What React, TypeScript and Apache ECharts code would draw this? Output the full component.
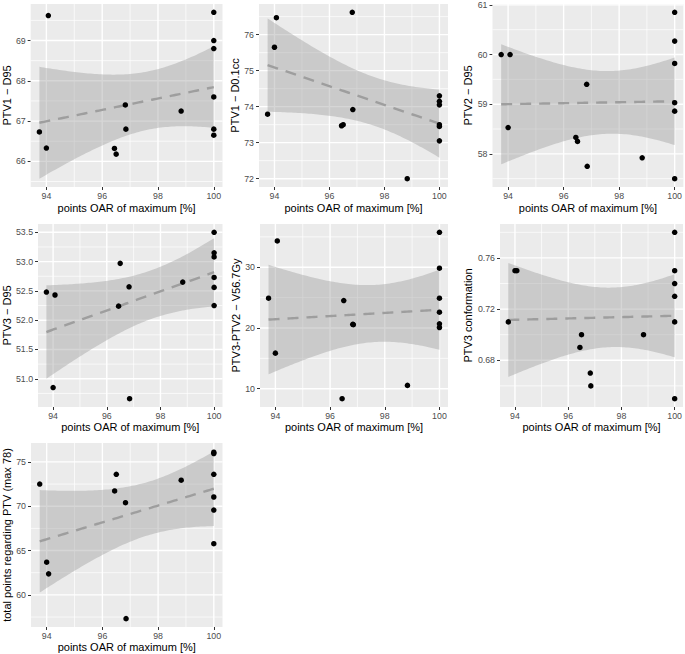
import React, { useEffect, useRef } from "react";
import * as echarts from "echarts";

// x: points OAR of maximum [%] (one value per patient, same for every panel)
const oarPoints = [93.75, 94.0, 94.07, 96.44, 96.5, 96.83, 96.85, 98.83, 100, 100, 100, 100, 100, 100];

// y values per panel, same patient order as oarPoints
const ptv1D95 = [66.73, 66.33, 69.62, 66.32, 66.18, 67.4, 66.8, 67.25, 69.7, 69.0, 68.8, 67.6, 66.8, 66.65];
const ptv1D01cc = [73.79, 75.65, 76.47, 73.47, 73.5, 76.62, 73.92, 72.0, 74.3, 74.15, 74.05, 73.5, 73.45, 73.05];
const ptv2D95 = [60.0, 58.53, 60.0, 58.33, 58.25, 59.4, 57.75, 57.92, 60.85, 60.27, 59.82, 59.03, 58.86, 57.5];
const ptv3D95 = [52.48, 50.85, 52.43, 52.24, 52.97, 52.57, 50.66, 52.65, 53.5, 53.15, 53.08, 52.73, 52.56, 52.25];
const ptv3V567 = [24.9, 15.86, 34.33, 8.36, 24.52, 20.6, 20.55, 10.55, 35.75, 29.84, 24.9, 22.6, 20.68, 20.08];
const ptv3Conformation = [0.71, 0.75, 0.75, 0.69, 0.7, 0.67, 0.66, 0.7, 0.78, 0.75, 0.74, 0.73, 0.71, 0.65];
const totalPointsPtv = [72.5, 63.69, 62.37, 71.72, 73.6, 70.4, 57.32, 72.93, 76.09, 75.94, 73.6, 71.04, 69.57, 65.77];

const panelValues = [ptv1D95, ptv1D01cc, ptv2D95, ptv3D95, ptv3V567, ptv3Conformation, totalPointsPtv];

const xTitle = "points OAR of maximum [%]";
const yTitles = [
  "PTV1 \u2212 D95",
  "PTV1 \u2212 D0.1cc",
  "PTV2 \u2212 D95",
  "PTV3 \u2212 D95",
  "PTV3-PTV2 \u2212 V56.7Gy",
  "PTV3 conformation",
  "total points regarding PTV (max 78)",
];

const xMajorTicks = [94, 96, 98, 100];
const xMinorTicks = [93, 95, 97, 99];
const yMajorTicks = [
  [66, 67, 68, 69],
  [72, 73, 74, 75, 76],
  [58, 59, 60, 61],
  [51, 51.5, 52, 52.5, 53, 53.5],
  [10, 20, 30],
  [0.68, 0.72, 0.76],
  [60, 65, 70, 75],
];
const yMinorTicks = [
  [65.5, 66.5, 67.5, 68.5, 69.5],
  [71.5, 72.5, 73.5, 74.5, 75.5, 76.5],
  [57.5, 58.5, 59.5, 60.5],
  [50.75, 51.25, 51.75, 52.25, 52.75, 53.25],
  [5, 15, 25, 35],
  [0.64, 0.66, 0.7, 0.74, 0.78],
  [57.5, 62.5, 67.5, 72.5, 77.5],
];
const yDecimals = [0, 0, 0, 1, 0, 2, 0];

// layout (pixels) of each panel
const LAYOUT = [
  { left: 29.5, top: 4, width: 193, height: 183, gapY: 17, gapX: 15 },
  { left: 259, top: 4, width: 189, height: 183, gapY: 15, gapX: 15 },
  { left: 492.5, top: 4, width: 192, height: 183, gapY: 17.5, gapX: 15 },
  { left: 36, top: 224, width: 186.5, height: 183, gapY: 24, gapX: 14.5 },
  { left: 260, top: 224, width: 188, height: 183, gapY: 17.5, gapX: 14.5 },
  { left: 500, top: 224, width: 185, height: 183, gapY: 25, gapX: 14.5 },
  { left: 29.5, top: 443, width: 193, height: 184, gapY: 19, gapX: 12.5 },
];

const FONT = "Liberation Sans, Arial, Helvetica, sans-serif";
const T975_DF12 = 2.178813; // Student t quantile, 95% level, n - 2 = 12 df

// geom_smooth(method = "lm") : least squares fit + 95% confidence band
function lmSmooth(xs: number[], ys: number[], nEval = 80) {
  const n = xs.length;
  const mx = xs.reduce((a, b) => a + b, 0) / n;
  const my = ys.reduce((a, b) => a + b, 0) / n;
  let sxx = 0;
  let sxy = 0;
  for (let i = 0; i < n; i++) {
    sxx += (xs[i] - mx) * (xs[i] - mx);
    sxy += (xs[i] - mx) * (ys[i] - my);
  }
  const b = sxy / sxx;
  const a = my - b * mx;
  let sse = 0;
  for (let i = 0; i < n; i++) {
    const r = ys[i] - (a + b * xs[i]);
    sse += r * r;
  }
  const s = Math.sqrt(sse / (n - 2));
  const x0 = Math.min(...xs);
  const x1 = Math.max(...xs);
  const out: number[][] = [];
  for (let k = 0; k < nEval; k++) {
    const xv = x0 + ((x1 - x0) * k) / (nEval - 1);
    const f = a + b * xv;
    const se = s * Math.sqrt(1 / n + ((xv - mx) * (xv - mx)) / sxx);
    out.push([xv, f - T975_DF12 * se, f + T975_DF12 * se, f]);
  }
  return out;
}

function expandRange(lo: number, hi: number) {
  const pad = (hi - lo) * 0.05;
  return [lo - pad, hi + pad];
}

function buildOption() {
  const grids: any[] = [];
  const xAxes: any[] = [];
  const yAxes: any[] = [];
  const series: any[] = [];
  const [xMin, xMax] = expandRange(Math.min(...oarPoints), Math.max(...oarPoints));

  panelValues.forEach((vals, i) => {
    const L = LAYOUT[i];
    const band = lmSmooth(oarPoints, vals);
    const lo = Math.min(...vals, ...band.map((b) => b[1]));
    const hi = Math.max(...vals, ...band.map((b) => b[2]));
    const [yMin, yMax] = expandRange(lo, hi);

    grids.push({
      left: L.left,
      top: L.top,
      width: L.width,
      height: L.height,
      show: true,
      backgroundColor: "#EBEBEB",
      borderWidth: 0,
      containLabel: false,
    });

    const dec = yDecimals[i];
    xAxes.push({
      type: "value",
      gridIndex: i,
      min: xMin,
      max: xMax,
      axisLine: { show: false },
      splitLine: { show: false },
      axisTick: {
        show: true,
        customValues: xMajorTicks,
        length: 3,
        lineStyle: { color: "#333333", width: 1 },
      },
      axisLabel: {
        customValues: xMajorTicks,
        color: "#4D4D4D",
        fontSize: 8.8,
        fontFamily: FONT,
        margin: 4.5,
        formatter: (v: number) => String(Math.round(v)),
      },
      name: xTitle,
      nameLocation: "middle",
      nameGap: L.gapX,
      nameTextStyle: { color: "#000000", fontSize: 11, fontFamily: FONT },
    });
    yAxes.push({
      type: "value",
      gridIndex: i,
      min: yMin,
      max: yMax,
      axisLine: { show: false },
      splitLine: { show: false },
      axisTick: {
        show: true,
        customValues: yMajorTicks[i],
        length: 3,
        lineStyle: { color: "#333333", width: 1 },
      },
      axisLabel: {
        customValues: yMajorTicks[i],
        color: "#4D4D4D",
        fontSize: 8.8,
        fontFamily: FONT,
        margin: 5,
        formatter: (v: number) => v.toFixed(dec),
      },
      name: yTitles[i],
      nameLocation: "middle",
      nameRotate: 90,
      nameGap: L.gapY,
      nameTextStyle: { color: "#000000", fontSize: 11, fontFamily: FONT },
    });

    // panel grid lines (white): [x1, y1, x2, y2, width] in data units
    const gridSegs: number[][] = [];
    yMinorTicks[i]
      .filter((v) => v > yMin && v < yMax)
      .forEach((v) => gridSegs.push([xMin, v, xMax, v, 0.7]));
    xMinorTicks
      .filter((v) => v > xMin && v < xMax)
      .forEach((v) => gridSegs.push([v, yMin, v, yMax, 0.7]));
    yMajorTicks[i]
      .filter((v) => v >= yMin && v <= yMax)
      .forEach((v) => gridSegs.push([xMin, v, xMax, v, 1.4]));
    xMajorTicks
      .filter((v) => v > xMin && v < xMax)
      .forEach((v) => gridSegs.push([v, yMin, v, yMax, 1.4]));

    series.push({
      type: "custom",
      xAxisIndex: i,
      yAxisIndex: i,
      z: 1,
      silent: true,
      clip: true,
      data: [[xMin, yMin]],
      renderItem: (_params: any, api: any) => ({
        type: "group",
        children: gridSegs.map((s) => {
          const p1 = api.coord([s[0], s[1]]);
          const p2 = api.coord([s[2], s[3]]);
          return {
            type: "line",
            shape: { x1: p1[0], y1: p1[1], x2: p2[0], y2: p2[1] },
            style: { stroke: "#FFFFFF", lineWidth: s[4] },
          };
        }),
      }),
    });

    // confidence band
    series.push({
      type: "custom",
      xAxisIndex: i,
      yAxisIndex: i,
      z: 2,
      silent: true,
      data: [[band[0][0], band[0][3]]],
      renderItem: (_params: any, api: any) => {
        const upper = band.map((b) => api.coord([b[0], b[2]]));
        const lower = band.map((b) => api.coord([b[0], b[1]])).reverse();
        return {
          type: "polygon",
          shape: { points: upper.concat(lower) },
          style: { fill: "#999999", opacity: 0.4, stroke: null },
        };
      },
    });

    // fitted line
    series.push({
      type: "line",
      xAxisIndex: i,
      yAxisIndex: i,
      z: 3,
      silent: true,
      showSymbol: false,
      symbol: "none",
      data: band.map((b) => [b[0], b[3]]),
      lineStyle: { color: "#9E9E9E", width: 2.4, type: [11, 8], cap: "butt" },
    });

    // points
    series.push({
      type: "scatter",
      xAxisIndex: i,
      yAxisIndex: i,
      z: 4,
      symbol: "circle",
      symbolSize: 5.5,
      itemStyle: { color: "#000000", opacity: 1 },
      data: oarPoints.map((x, k) => [x, vals[k]]),
    });
  });

  return {
    animation: false,
    backgroundColor: "#FFFFFF",
    textStyle: { fontFamily: FONT },
    grid: grids,
    xAxis: xAxes,
    yAxis: yAxes,
    series,
  };
}

export default function App() {
  const ref = useRef<HTMLDivElement>(null);
  useEffect(() => {
    document.body.style.margin = "0";
    if (!ref.current) return;
    const chart = echarts.init(ref.current, undefined, { renderer: "svg" });
    chart.setOption(buildOption() as any);
    return () => chart.dispose();
  }, []);
  return <div ref={ref} style={{ width: 685, height: 654 }} />;
}
